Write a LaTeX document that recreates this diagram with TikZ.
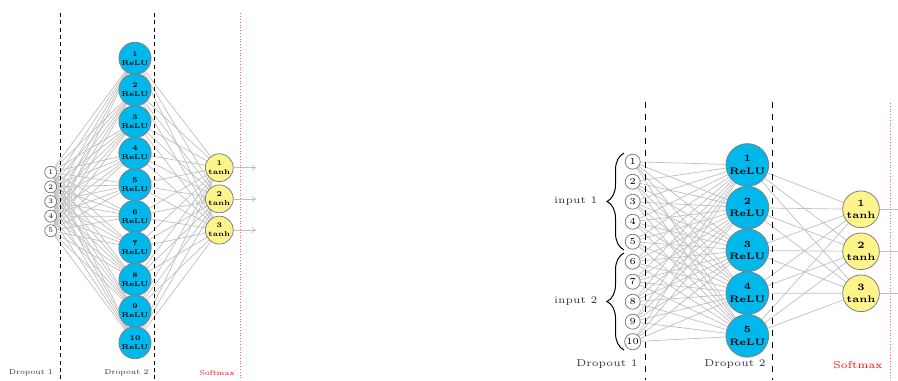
\documentclass[tikz,border=0pt]{standalone}
\usetikzlibrary{arrows.meta,decorations.pathreplacing,backgrounds}

\definecolor{hidfill}{RGB}{0,184,235}
\definecolor{outfill}{RGB}{255,244,140}

\begin{document}
\begin{tikzpicture}[
  x=0.5pt,y=-0.5pt,
  neuron/.style={circle,draw=gray,line width=0.4pt,inner sep=0.4pt,align=center},
  link/.style={gray!50,line width=0.35pt},
  cut/.style={dashed,line width=0.5pt},
  soft/.style={red!60,densely dotted,line width=0.4pt},
  tag/.style={text=black!80,inner sep=0pt},
  % small net
  sin/.style={neuron,fill=white,minimum size=6pt,font=\fontsize{3.5}{4}\selectfont},
  shid/.style={neuron,fill=hidfill,minimum size=15pt,font=\fontsize{3.5}{4.5}\selectfont\bfseries},
  sout/.style={neuron,fill=outfill,minimum size=13pt,font=\fontsize{3.6}{4.5}\selectfont\bfseries},
  stag/.style={tag,font=\fontsize{3.6}{4}\selectfont},
  % big net
  bin/.style={neuron,fill=white,minimum size=7.5pt,font=\fontsize{4.6}{5}\selectfont},
  bhid/.style={neuron,fill=hidfill,minimum size=20pt,font=\fontsize{4.7}{6.2}\selectfont\bfseries},
  bout/.style={neuron,fill=outfill,minimum size=18pt,font=\fontsize{4.8}{6.2}\selectfont\bfseries},
  btag/.style={tag,font=\fontsize{5}{6}\selectfont}
]
  \useasboundingbox (0,0) rectangle (898,380);
  \clip (0,0) rectangle (898,380);

  % ---- small network ----
  \foreach \i in {1,...,5}
    \node[sin] (SI\i) at (50.7,{172.3+14.6*(\i-1)}) {\i};
  \foreach \i in {1,...,10}
    \node[shid] (SH\i) at (135,{58.3+31.6*(\i-1)}) {\i\\ReLU};
  \foreach \i in {1,...,3} {
    \node[sout] (SO\i) at (219.3,{167.7+31.2*(\i-1)}) {\i\\tanh};
    \coordinate (SA\i) at (256,{167.7+31.2*(\i-1)});
  }

  \begin{scope}[on background layer]
    \foreach \i in {1,...,5}
      \foreach \j in {1,...,10}
        \draw[link] (SI\i) -- (SH\j);
    \foreach \j in {1,...,10}
      \foreach \k in {1,...,3}
        \draw[link] (SH\j) -- (SO\k);
  \end{scope}
  \foreach \k in {1,...,3}
    \draw[link,-{To[length=2pt,width=3pt]}] (SO\k) -- (SA\k);

  \coordinate (sd1t) at (60,12.7);   \coordinate (sd1b) at (60,380);
  \coordinate (sd2t) at (154,12.7);  \coordinate (sd2b) at (154,380);
  \coordinate (ssmt) at (240.7,13.3); \coordinate (ssmb) at (240.7,380);
  \draw[cut,dash pattern=on 2pt off 1.7pt] (sd1t) -- (sd1b);
  \draw[cut,dash pattern=on 2pt off 1.7pt] (sd2t) -- (sd2b);
  \draw[soft] (ssmt) -- (ssmb);

  \node[stag] (sdrop1) at (31,373) {Dropout 1};
  \node[stag] (sdrop2) at (126.5,373) {Dropout 2};
  \node[stag,text=red] (ssoft) at (217,373) {Softmax};

  % ---- big network ----
  \foreach \i in {1,...,10}
    \node[bin] (BI\i) at (632.7,{161.7+20*(\i-1)}) {\i};
  \foreach \i in {1,...,5}
    \node[bhid] (BH\i) at (747.3,{165+42.7*(\i-1)}) {\i\\ReLU};
  \foreach \i in {1,...,3} {
    \node[bout] (BO\i) at (861,{209.3+42*(\i-1)}) {\i\\tanh};
    \coordinate (BA\i) at (920,{209.3+42*(\i-1)});
  }

  \begin{scope}[on background layer]
    \foreach \i in {1,...,10}
      \foreach \j in {1,...,5}
        \draw[link] (BI\i) -- (BH\j);
    \foreach \j in {1,...,5}
      \foreach \k in {1,...,3}
        \draw[link] (BH\j) -- (BO\k);
  \end{scope}
  \foreach \k in {1,...,3}
    \draw[link,-{To[length=3pt,width=4pt]}] (BO\k) -- (BA\k);

  % input groups
  \coordinate (g1b) at (624,250); \coordinate (g1t) at (624,153);
  \coordinate (g2b) at (624,350); \coordinate (g2t) at (624,253);
  \draw[decorate,decoration={brace,amplitude=8.5pt},line width=0.5pt]
    (g1b) -- (g1t) node[btag,midway,left=13pt] (grp1) {input 1};
  \draw[decorate,decoration={brace,amplitude=8.5pt},line width=0.5pt]
    (g2b) -- (g2t) node[btag,midway,left=13pt] (grp2) {input 2};

  \coordinate (bd1t) at (645,102);   \coordinate (bd1b) at (645,380);
  \coordinate (bd2t) at (772.7,102); \coordinate (bd2b) at (772.7,380);
  \coordinate (bsmt) at (890,103);   \coordinate (bsmb) at (890,380);
  \draw[cut] (bd1t) -- (bd1b);
  \draw[cut] (bd2t) -- (bd2b);
  \draw[soft] (bsmt) -- (bsmb);

  \node[btag] (bdrop1) at (607,364) {Dropout 1};
  \node[btag] (bdrop2) at (735,364) {Dropout 2};
  \node[btag,text=red] (bsoft) at (858,365) {Softmax};
\end{tikzpicture}
\end{document}
